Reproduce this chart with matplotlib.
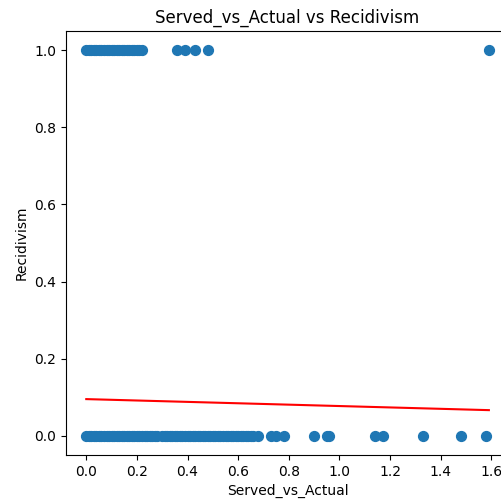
import numpy as np
import matplotlib
matplotlib.use("Agg")
import matplotlib.pyplot as plt

# Served_vs_Actual values for non-recidivists (Recidivism = 0)
served_0 = [0.00, 0.01, 0.02, 0.03, 0.04, 0.05, 0.06, 0.07, 0.08, 0.09,
            0.10, 0.11, 0.12, 0.13, 0.14, 0.15, 0.16, 0.17, 0.18, 0.19,
            0.20, 0.21, 0.22, 0.23, 0.24, 0.25, 0.26, 0.27, 0.28, 0.30,
            0.31, 0.32, 0.33, 0.34, 0.35, 0.36, 0.37, 0.38, 0.39, 0.40,
            0.41, 0.42, 0.43, 0.44, 0.45, 0.46, 0.47, 0.48, 0.49, 0.50,
            0.51, 0.52, 0.53, 0.54, 0.55, 0.56, 0.57, 0.58, 0.59, 0.60,
            0.61, 0.62, 0.63, 0.64, 0.65, 0.66, 0.68,
            0.73, 0.75, 0.78, 0.90, 0.95, 0.96, 1.14, 1.17, 1.33, 1.48, 1.58]

# Served_vs_Actual values for recidivists (Recidivism = 1)
served_1 = [0.00, 0.01, 0.02, 0.03, 0.04, 0.05, 0.06, 0.07, 0.08, 0.09,
            0.10, 0.11, 0.12, 0.13, 0.14, 0.15, 0.16, 0.17, 0.18, 0.19,
            0.20, 0.21, 0.22, 0.36, 0.39, 0.43, 0.48, 1.59]

# linear regression fit (intercept, slope)
fit_intercept = 0.095
fit_slope = -0.018

x = np.array(served_0 + served_1)
y = np.array([0] * len(served_0) + [1] * len(served_1))

fig = plt.figure(figsize=(5.01, 5.0), dpi=100)
ax = fig.add_axes([0.132, 0.09, 0.884, 0.848])

ax.scatter(x, y, s=50)
x_line = np.sort(x)
ax.plot(x_line, fit_intercept + fit_slope * x_line, color='red')

ax.set_title('Served_vs_Actual vs Recidivism')
ax.set_xlabel('Served_vs_Actual')
ax.set_ylabel('Recidivism')

fig.savefig('out.png', dpi=100)
